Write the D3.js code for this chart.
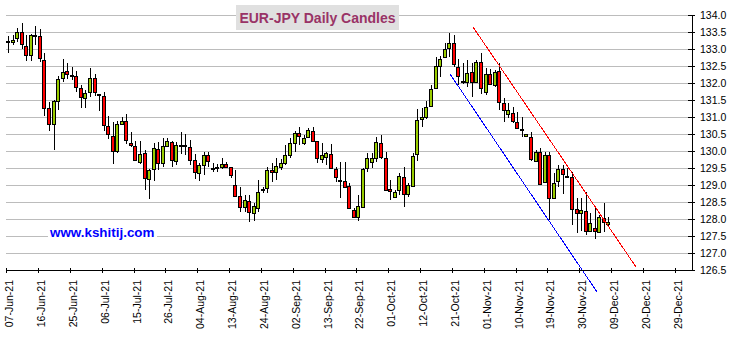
<!DOCTYPE html>
<html>
<head>
<meta charset="utf-8">
<script src="https://cdn.jsdelivr.net/npm/d3@7"></script>
<style>
html,body{margin:0;padding:0;background:#fff;}
svg{display:block;font-family:"Liberation Sans",Arial,sans-serif;}
</style>
</head>
<body>
<svg id="chart" width="733" height="337"></svg>
<script>
// ---- data ----
const chartTitle = "EUR-JPY Daily Candles";
const siteLabel = "www.kshitij.com";
const startDate = "2021-06-07";
const openVals = [133.23,133.21,133.32,133.50,133.08,132.82,133.41,133.37,132.68,131.26,130.79,131.46,132.14,132.35,132.24,132.21,131.85,131.56,131.74,132.15,131.67,131.62,130.74,130.44,130.01,130.79,130.88,130.25,130.15,129.67,129.93,129.17,129.46,130.05,129.64,130.15,130.26,129.71,130.16,130.18,130.13,129.73,129.34,129.59,129.88,129.51,129.52,129.54,129.63,129.52,129.00,128.68,128.34,128.53,128.17,128.31,128.85,128.90,129.44,129.37,129.54,129.66,129.88,130.23,130.52,130.23,130.40,130.59,130.29,129.76,129.81,129.90,129.47,129.16,129.12,128.98,128.26,128.07,128.36,129.49,129.67,129.80,130.23,129.80,128.87,128.64,128.85,129.25,128.73,128.98,129.90,130.93,130.99,131.32,131.84,132.50,132.75,133.02,133.17,132.48,132.05,132.02,132.31,132.04,132.63,131.73,132.26,131.94,132.35,131.40,131.08,131.11,130.84,130.66,130.44,130.40,129.71,129.96,129.08,129.88,128.63,129.12,129.47,129.27,129.25,128.29,128.17,128.24,127.65,127.73,127.61,128.02,127.84];
const highVals = [133.39,133.40,133.63,133.76,133.42,133.45,133.69,133.59,132.88,131.44,131.51,132.20,132.71,132.59,132.47,132.34,131.95,131.80,132.44,132.25,131.69,131.75,131.04,130.85,130.88,130.99,131.09,130.55,130.29,130.29,130.03,129.47,130.23,130.27,130.39,130.37,130.29,130.27,130.55,130.50,130.32,129.90,129.64,129.98,129.98,129.66,129.61,129.79,129.69,129.54,129.44,128.95,128.71,128.71,128.46,129.15,128.95,129.54,129.64,129.79,129.76,130.18,130.37,130.59,130.70,130.47,130.67,130.70,130.30,130.25,129.98,130.20,129.54,129.69,129.67,129.07,128.31,128.71,129.51,129.93,129.93,130.42,130.47,129.98,129.15,128.85,129.34,129.54,129.05,129.95,131.23,131.26,131.47,131.94,132.75,132.78,133.19,133.46,133.41,132.72,132.58,132.68,132.58,132.68,132.89,132.43,132.40,132.38,132.58,131.55,131.42,131.30,131.14,131.01,130.51,130.57,130.03,130.08,129.98,129.98,129.34,129.59,129.59,129.51,129.39,128.63,128.61,128.80,128.17,128.36,128.12,128.46,128.07];
const lowVals = [132.88,133.11,133.21,133.00,132.64,132.64,133.13,132.61,131.02,130.58,130.02,131.20,132.02,132.12,132.09,131.75,131.26,131.26,131.58,131.63,131.17,130.60,130.35,129.62,129.94,130.76,130.20,130.11,129.71,129.62,128.85,128.58,129.13,129.44,129.54,130.11,129.54,129.59,129.90,129.88,129.59,129.17,129.12,129.29,129.54,129.37,129.39,129.47,129.49,129.20,128.66,128.22,128.22,127.92,127.94,128.22,128.76,128.76,129.10,129.15,129.44,129.59,129.80,129.98,130.18,130.18,130.37,130.27,129.64,129.64,129.59,129.47,129.10,128.63,128.90,128.28,128.04,127.94,128.33,129.39,129.49,129.69,129.76,128.82,128.56,128.61,128.71,128.34,128.66,128.95,129.72,130.72,130.94,131.30,131.84,132.19,132.73,132.76,132.48,131.94,131.96,131.89,131.60,132.01,131.68,131.65,131.94,131.89,131.21,130.86,130.96,130.81,130.67,130.42,130.42,129.71,129.67,129.00,129.05,127.97,128.61,128.95,128.73,129.25,127.82,127.58,127.65,127.53,127.63,127.40,127.58,127.63,127.77];
const closeVals = [133.22,133.26,133.50,133.15,132.82,133.42,133.40,132.74,131.26,130.79,131.46,132.11,132.32,132.26,132.21,131.89,131.58,131.72,132.15,131.75,131.65,130.76,130.50,130.01,130.79,130.88,130.32,130.17,129.73,129.91,129.20,129.44,130.08,129.64,130.15,130.29,129.73,130.18,130.17,130.17,129.73,129.37,129.59,129.88,129.72,129.50,129.50,129.61,129.54,129.28,128.69,128.34,128.55,128.20,128.38,128.80,128.87,129.44,129.37,129.56,129.64,129.88,130.23,130.52,130.44,130.37,130.62,130.30,129.79,129.88,129.93,129.49,129.23,129.14,128.95,128.31,128.07,128.38,129.47,129.79,129.80,130.27,129.83,128.85,128.82,128.80,129.27,128.74,129.00,129.85,130.91,130.99,131.30,131.81,132.50,132.70,132.99,133.17,132.56,132.21,132.04,132.28,132.04,132.63,131.84,132.26,131.97,132.33,131.43,131.21,131.21,130.88,130.67,130.65,130.49,129.77,129.96,129.02,129.88,128.63,129.07,129.46,129.31,129.26,128.29,128.17,128.27,127.65,127.87,127.66,128.05,127.90,127.92];
const xTickLabels = ["07-Jun-21","16-Jun-21","25-Jun-21","06-Jul-21","15-Jul-21","26-Jul-21","04-Aug-21","13-Aug-21","24-Aug-21","02-Sep-21","13-Sep-21","22-Sep-21","01-Oct-21","12-Oct-21","21-Oct-21","01-Nov-21","10-Nov-21","19-Nov-21","30-Nov-21","09-Dec-21","20-Dec-21","29-Dec-21"];
const yTickValues = [126.5,127.0,127.5,128.0,128.5,129.0,129.5,130.0,130.5,131.0,131.5,132.0,132.5,133.0,133.5,134.0];
// trend lines: [trading-day index, price]
const blueLine = [[97.58,132.26],[130.0,125.86]];
const redLine = [[102.64,133.65],[138.42,126.60]];

(function () {
  // ---- categories: trading days (weekdays) from start ----
  const parse = d3.timeParse("%Y-%m-%d");
  const fmt = d3.timeFormat("%d-%b-%y");
  const allDays = d3.timeDay.range(parse(startDate), parse("2022-01-05")).filter(d => d.getDay() !== 0 && d.getDay() !== 6);
  const dayLabels = allDays.map(fmt);
  const tickIdx = xTickLabels.map(l => dayLabels.indexOf(l));

  const svg = d3.select("#chart");
  const pLeft = 6, pRight = 692, pTop = 15, pBottom = 270;
  const x = d3.scaleLinear().domain([0, 150.8]).range([6.3, pRight]).interpolate(d3.interpolateRound);
  const y = d3.scaleLinear().domain([126.5, 134]).range([pBottom, pTop]).interpolate(d3.interpolateRound);

  // gridlines
  svg.append("g").selectAll("line").data(yTickValues.filter(v => v > 126.5)).join("line")
    .attr("x1", pLeft).attr("x2", pRight)
    .attr("y1", d => y(d) + 0.5).attr("y2", d => y(d) + 0.5)
    .attr("stroke", "#bcbcbc").attr("stroke-width", 1);

  // title
  svg.append("rect").attr("x", 236).attr("y", 5).attr("width", 163).attr("height", 25).attr("fill", "#e0e0e0");
  svg.append("text").attr("x", 317.5).attr("y", 23).attr("text-anchor", "middle")
    .attr("font-size", "14px").attr("font-weight", "bold").attr("fill", "#993366").text(chartTitle);

  // site label
  svg.append("rect").attr("x", 48).attr("y", 224).attr("width", 109).attr("height", 15).attr("fill", "#fff");
  svg.append("text").attr("x", 50).attr("y", 236.5)
    .attr("font-size", "13.4px").attr("font-weight", "bold").attr("fill", "#0000ff").text(siteLabel);

  // candles
  const candles = openVals.map((o, i) => ({i, o, h: highVals[i], l: lowVals[i], c: closeVals[i]}));
  const cg = svg.append("g").selectAll("g").data(candles).join("g");
  cg.append("line")
    .attr("x1", d => x(d.i + 0.4) + 0.5).attr("x2", d => x(d.i + 0.4) + 0.5)
    .attr("y1", d => y(d.h)).attr("y2", d => y(d.l))
    .attr("stroke", "#000").attr("stroke-width", 1);
  cg.append("rect")
    .attr("x", d => x(d.i + 0.4) - 1.5)
    .attr("width", 3)
    .attr("y", d => y(Math.max(d.o, d.c)) + 0.5)
    .attr("height", d => Math.max(1, y(Math.min(d.o, d.c)) - y(Math.max(d.o, d.c))))
    .attr("fill", d => d.c >= d.o ? "#99cc00" : "#ff0000")
    .attr("stroke", "#000").attr("stroke-width", 1);

  // trend lines
  const lineGen = d3.line().x(d => x(d[0])).y(d => y(d[1]));
  svg.append("path").attr("d", lineGen(blueLine)).attr("fill", "none").attr("stroke", "#0000ff")
    .attr("stroke-width", 1).attr("shape-rendering", "crispEdges");
  svg.append("path").attr("d", lineGen(redLine)).attr("fill", "none").attr("stroke", "#ff0000")
    .attr("stroke-width", 1).attr("shape-rendering", "crispEdges");

  // y axis (right)
  const yAxis = svg.append("g").attr("transform", `translate(${pRight},0)`)
    .call(d3.axisRight(y).tickValues(yTickValues).tickFormat(d3.format(".1f")).tickSizeInner(3).tickSizeOuter(0).tickPadding(5));
  yAxis.selectAll(".tick line").attr("x1", -4);
  yAxis.selectAll("text").attr("font-size", "10.5px").attr("font-family", "Liberation Sans, Arial, sans-serif").attr("fill", "#000");
  yAxis.select(".domain").attr("stroke", "#000");

  // x axis (bottom)
  const xAxis = svg.append("g").attr("transform", `translate(0,${pBottom})`)
    .call(d3.axisBottom(x).tickValues(tickIdx).tickFormat((d, k) => xTickLabels[k]).tickSizeInner(3).tickSizeOuter(0));
  xAxis.select(".domain").attr("d", `M${pLeft},0.5H${pRight}`).attr("stroke", "#000");
  xAxis.selectAll(".tick line").attr("y1", -2);
  xAxis.selectAll("text")
    .attr("font-size", "10.5px").attr("font-family", "Liberation Sans, Arial, sans-serif").attr("fill", "#000")
    .attr("text-anchor", "end").attr("dy", null).attr("y", null)
    .attr("transform", "translate(6,10) rotate(-90)");
})();
</script>
</body>
</html>
